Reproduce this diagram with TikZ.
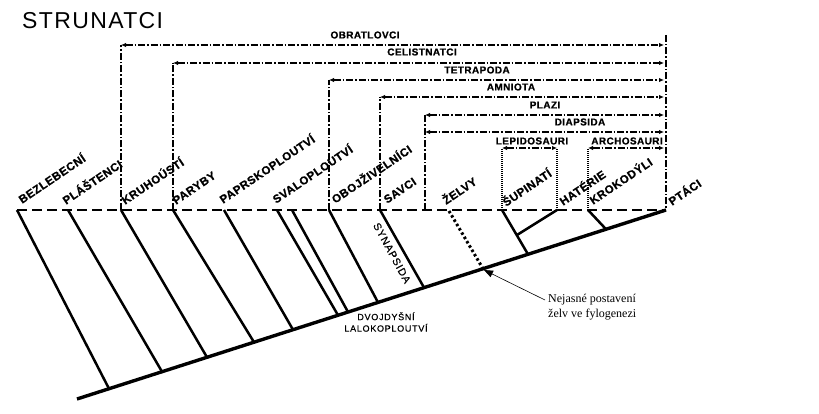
\documentclass[tikz,border=0pt]{standalone}
\usepackage{fontspec}
\setmainfont{Liberation Sans}
\newfontfamily\labfont[LetterSpace=4, BoldFeatures={FakeBold=0.8}]{Liberation Sans}
\newfontfamily\smfont[LetterSpace=8, FakeBold=0.5]{Liberation Sans}
\newfontfamily\titfont[LetterSpace=6]{Liberation Sans}
\newfontfamily\serfont{Liberation Serif}
\usetikzlibrary{arrows.meta}
\begin{document}
\begin{tikzpicture}[x=1pt,y=-1pt,
  trunk/.style={line width=3.4pt},
  branch/.style={line width=2.5pt},
  baseline/.style={line width=2pt, dash pattern=on 10pt off 5pt},
  clade/.style={line width=1.4pt, dash pattern=on 7pt off 2pt on 1.5pt off 2pt},
  fine/.style={line width=1.2pt, dash pattern=on 1pt off 1pt},
  dots/.style={line width=3pt, dash pattern=on 2.5pt off 2.5pt},
  tips/.style={{Latex[length=5pt,width=4.5pt]}-{Latex[length=5pt,width=4.5pt]}},
  taxon/.style={rotate=34, anchor=base west, inner sep=0pt, font=\labfont\bfseries\fontsize{11.5}{12}\selectfont},
  cladelab/.style={inner sep=0pt, font=\labfont\bfseries\fontsize{10}{10}\selectfont},
  small/.style={inner sep=0pt, font=\smfont\fontsize{9}{11.5}\selectfont, align=center},
]
\useasboundingbox (0,0) rectangle (819,414);

% title
\node[anchor=base west, inner sep=0pt, font=\titfont\fontsize{23}{24}\selectfont] (title) at (22,29) {STRUNATCI};

% trunk
\coordinate (root) at (77,399);
\coordinate (ptaci) at (666,210);
\draw[trunk] (root) -- (ptaci);

% base line
\coordinate (bl) at (17,210);
\draw[baseline] (bl) -- (ptaci);

% branch tops
\coordinate (t1) at (17,210);
\coordinate (t2) at (68,210);
\coordinate (t3) at (121,210);
\coordinate (t4) at (173,210);
\coordinate (t5) at (224,210);
\coordinate (t6) at (277,210);
\coordinate (t7) at (292,210);
\coordinate (t8) at (329,210);
\coordinate (t9) at (380,210);
\coordinate (tz) at (449,211);
\coordinate (t10) at (502,210);
\coordinate (t11) at (557,210);
\coordinate (t12) at (588,210);
% branch bottoms on trunk
\coordinate (b1) at (109,388.7);
\coordinate (b2) at (162,371.7);
\coordinate (b3) at (207,357.3);
\coordinate (b4) at (254,342.2);
\coordinate (b5) at (293,329.7);
\coordinate (b6) at (338,315.2);
\coordinate (b7) at (348,312);
\coordinate (b8) at (378,302.4);
\coordinate (b9) at (424,287.6);
\coordinate (bz) at (483,268.7);
\coordinate (b10) at (528,254.3);
\coordinate (j11) at (517,235);
\coordinate (b12) at (606,229.2);

\foreach \i in {1,...,10} \draw[branch] (t\i) -- (b\i);
\draw[branch] (t11) -- (j11);
\draw[branch] (t12) -- (b12);
\draw[dots] (tz) -- (bz);

% clade brackets
\coordinate (rtop) at (666,35);
\draw[clade] (rtop) -- (ptaci);
\foreach \n/\x/\y in {ob/121/45, ce/173/63, te/329/80, am/380/97, pl/425/115} {
  \coordinate (\n L) at (\x,\y);
  \coordinate (\n B) at (\x,210);
  \coordinate (\n R) at (664,\y);
  \draw[clade] (\n B) -- (\n L);
  \draw[clade, tips] (\n L) -- (\n R);
}
\coordinate (diL) at (425,132);
\coordinate (diR) at (664,132);
\draw[clade, tips] (diL) -- (diR);

\coordinate (leL) at (502,148);
\coordinate (leR) at (557,148);
\draw[fine] (t10) -- (leL);
\draw[fine] (t11) -- (leR);
\draw[clade, tips] (leL) -- (leR);
\coordinate (arL) at (588,148);
\coordinate (arR) at (664,148);
\draw[fine] (t12) -- (arL);
\draw[clade, tips] (arL) -- (arR);

% clade labels
\node[cladelab] (lob) at (365,35) {OBRATLOVCI};
\node[cladelab] (lce) at (422,52) {CELISTNATCI};
\node[cladelab] (lte) at (477,70) {TETRAPODA};
\node[cladelab] (lam) at (511,87) {AMNIOTA};
\node[cladelab] (lpl) at (545,105) {PLAZI};
\node[cladelab] (ldi) at (580,122) {DIAPSIDA};
\node[cladelab] (lle) at (532,141) {LEPIDOSAURI};
\node[cladelab] (lar) at (627,141) {ARCHOSAURI};

% taxon labels
\node[taxon] (n1) at (22,204) {BEZLEBECNÍ};
\node[taxon] (n2) at (66,205) {PLÁŠTENCI};
\node[taxon] (n3) at (125,205) {KRUHOÚSTÍ};
\node[taxon] (n4) at (176,205) {PARYBY};
\node[taxon] (n5) at (223,204) {PAPRSKOPLOUTVÍ};
\node[taxon] (n6) at (276,204) {SVALOPLOUTVÍ};
\node[taxon] (n7) at (335,204) {OBOJŽIVELNÍCI};
\node[taxon] (n8) at (387,204) {SAVCI};
\node[taxon] (n9) at (446,205) {ŽELVY};
\node[taxon] (n10) at (506,207) {ŠUPINATÍ};
\node[taxon] (n11) at (563,206) {HATÉRIE};
\node[taxon] (n12) at (593,205) {KROKODÝLI};
\node[taxon] (n13) at (672,206) {PTÁCI};

% other labels
\node[inner sep=0pt, rotate=-61.5, font=\smfont\fontsize{10.5}{11}\selectfont] (syn) at (392,253) {SYNAPSIDA};
\node[small] (dvo) at (386,322) {DVOJDYŠNÍ\\LALOKOPLOUTVÍ};

% annotation
\node[anchor=north west, inner sep=0pt, align=left, font=\serfont\fontsize{12}{15}\selectfont] (note) at (548,294) {Nejasné postavení\\želv ve fylogenezi};
\coordinate (ns) at (545,300);
\coordinate (nt) at (484,270);
\draw[line width=0.6pt, -{Triangle[length=9pt,width=7pt]}] (ns) -- (nt);
\end{tikzpicture}
\end{document}
